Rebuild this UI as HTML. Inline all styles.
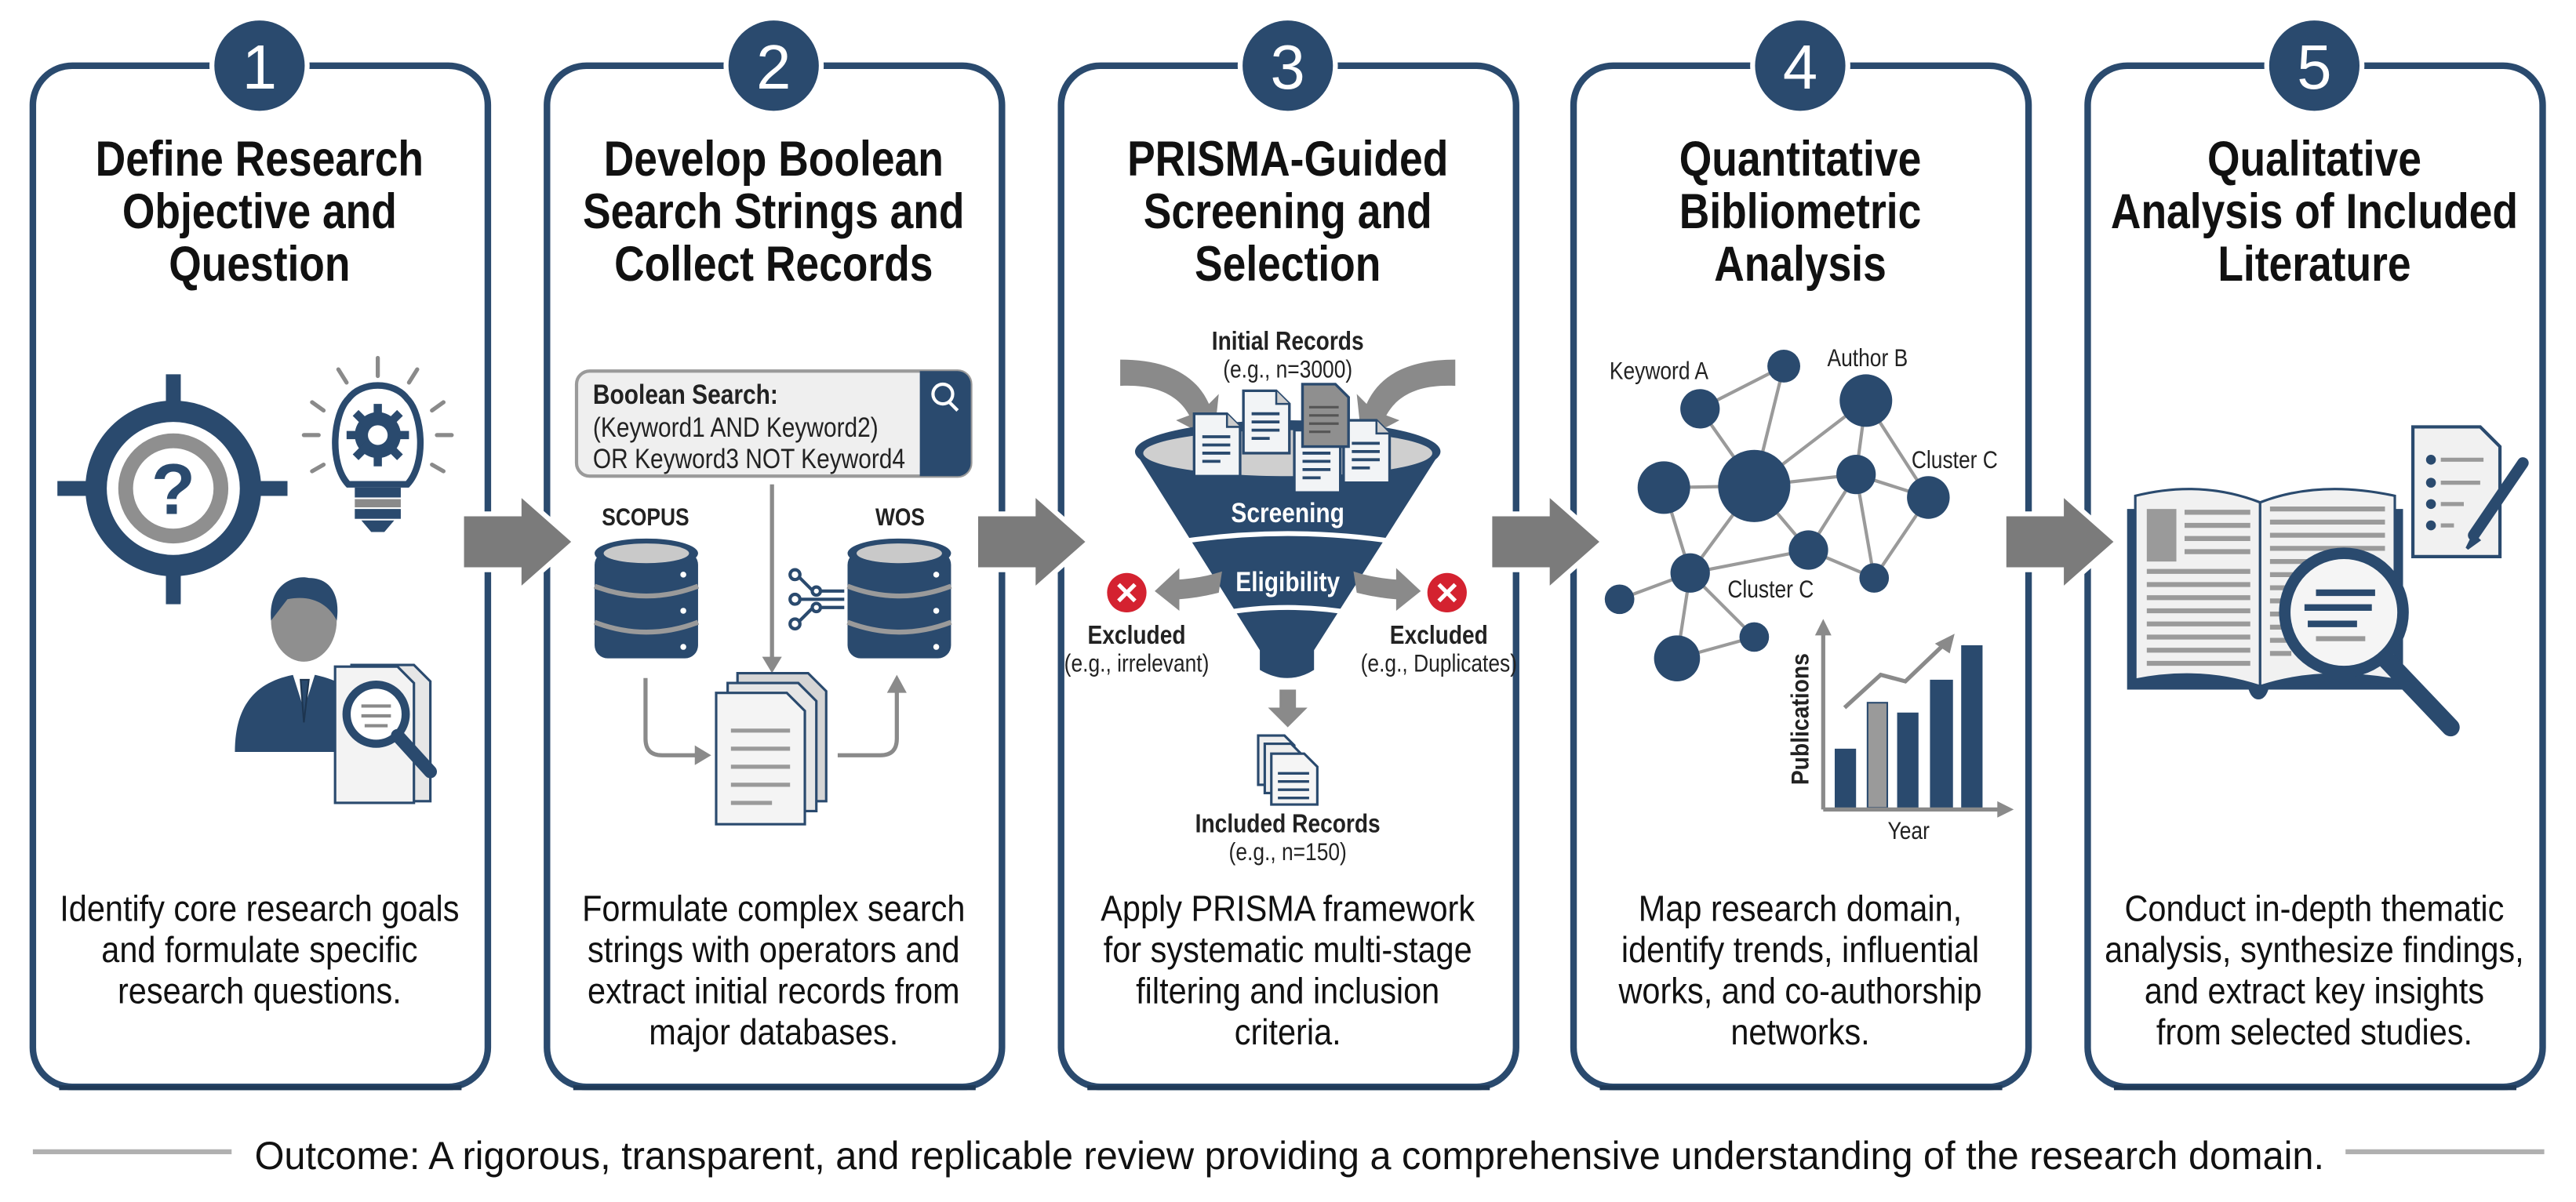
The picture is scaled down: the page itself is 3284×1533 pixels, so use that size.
<!DOCTYPE html>
<html><head><meta charset="utf-8"><style>
html,body{margin:0;padding:0;background:#fff;}
svg{display:block;}
text{font-family:"Liberation Sans",sans-serif;}
</style></head><body>
<svg width="3284" height="1533" viewBox="0 0 1568.3 732.1" xmlns="http://www.w3.org/2000/svg">
<defs>
<g id="doc"><path d="M0 0 H20 L28 8 V38 H0 Z" fill="#f2f4f6" stroke="#2a4a6e" stroke-width="1.6"/><path d="M20 0 V8 H28" fill="#ccc" stroke="#2a4a6e" stroke-width="1.2"/><path d="M5 14 H22 M5 19 H22 M5 24 H22 M5 29 H16" stroke="#2a4a6e" stroke-width="1.8"/></g>
</defs>
<rect width="1568.3" height="732.1" fill="#fff"/>

<!-- Panels -->
<g fill="none" stroke="#2a4a6e" stroke-width="4">
<rect x="20" y="40" width="277" height="622" rx="24"/>
<rect x="333" y="40" width="277" height="622" rx="24"/>
<rect x="646" y="40" width="277" height="622" rx="24"/>
<rect x="958" y="40" width="277" height="622" rx="24"/>
<rect x="1271" y="40" width="277" height="622" rx="24"/>
</g>
<g stroke="#1f3a58" stroke-width="3" fill="none">
<path d="M36 662.5 H281"/><path d="M349 662.5 H594"/><path d="M662 662.5 H907"/><path d="M974 662.5 H1219"/><path d="M1287 662.5 H1532"/>
</g>

<!-- Number circles -->
<g fill="#2a4a6e" stroke="#fff" stroke-width="3">
<circle cx="158" cy="40" r="29"/><circle cx="471" cy="40" r="29"/><circle cx="784" cy="40" r="29"/><circle cx="1096" cy="40" r="29"/><circle cx="1409" cy="40" r="29"/>
</g>
<g fill="#fff" font-size="38" text-anchor="middle">
<text x="158" y="54">1</text><text x="471" y="54">2</text><text x="784" y="54">3</text><text x="1096" y="54">4</text><text x="1409" y="54">5</text>
</g>

<!-- Titles -->
<g font-weight="bold" font-size="30" fill="#111" text-anchor="middle">
<text transform="translate(158,107) scale(.85,1)">Define Research</text>
<text transform="translate(158,139) scale(.85,1)">Objective and</text>
<text transform="translate(158,171) scale(.85,1)">Question</text>
<text transform="translate(471,107) scale(.85,1)">Develop Boolean</text>
<text transform="translate(471,139) scale(.85,1)">Search Strings and</text>
<text transform="translate(471,171) scale(.85,1)">Collect Records</text>
<text transform="translate(784,107) scale(.85,1)">PRISMA-Guided</text>
<text transform="translate(784,139) scale(.85,1)">Screening and</text>
<text transform="translate(784,171) scale(.85,1)">Selection</text>
<text transform="translate(1096,107) scale(.85,1)">Quantitative</text>
<text transform="translate(1096,139) scale(.85,1)">Bibliometric</text>
<text transform="translate(1096,171) scale(.85,1)">Analysis</text>
<text transform="translate(1409,107) scale(.85,1)">Qualitative</text>
<text transform="translate(1409,139) scale(.85,1)">Analysis of Included</text>
<text transform="translate(1409,171) scale(.85,1)">Literature</text>
</g>

<!-- Descriptions -->
<g font-size="22" fill="#111" text-anchor="middle">
<text transform="translate(158,561) scale(.9,1)">Identify core research goals</text>
<text transform="translate(158,586) scale(.9,1)">and formulate specific</text>
<text transform="translate(158,611) scale(.9,1)">research questions.</text>
<text transform="translate(471,561) scale(.9,1)">Formulate complex search</text>
<text transform="translate(471,586) scale(.9,1)">strings with operators and</text>
<text transform="translate(471,611) scale(.9,1)">extract initial records from</text>
<text transform="translate(471,636) scale(.9,1)">major databases.</text>
<text transform="translate(784,561) scale(.9,1)">Apply PRISMA framework</text>
<text transform="translate(784,586) scale(.9,1)">for systematic multi-stage</text>
<text transform="translate(784,611) scale(.9,1)">filtering and inclusion</text>
<text transform="translate(784,636) scale(.9,1)">criteria.</text>
<text transform="translate(1096,561) scale(.9,1)">Map research domain,</text>
<text transform="translate(1096,586) scale(.9,1)">identify trends, influential</text>
<text transform="translate(1096,611) scale(.9,1)">works, and co-authorship</text>
<text transform="translate(1096,636) scale(.9,1)">networks.</text>
<text transform="translate(1409,561) scale(.9,1)">Conduct in-depth thematic</text>
<text transform="translate(1409,586) scale(.9,1)">analysis, synthesize findings,</text>
<text transform="translate(1409,611) scale(.9,1)">and extract key insights</text>
<text transform="translate(1409,636) scale(.9,1)">from selected studies.</text>
</g>

<!-- Between-panel arrows -->
<g fill="#7b7b7b" stroke="#fff" stroke-width="3">
<path d="M281 313 H316 V300 L350 330 L316 360 V347 H281 Z"/>
<path d="M594 313 H629 V300 L663 330 L629 360 V347 H594 Z"/>
<path d="M907 313 H942 V300 L976 330 L942 360 V347 H907 Z"/>
<path d="M1220 313 H1255 V300 L1289 330 L1255 360 V347 H1220 Z"/>
</g>

<!-- Panel 1 icons -->
<g>
<rect x="35" y="293" width="140" height="9" fill="#2a4a6e"/>
<rect x="101" y="228" width="9" height="140" fill="#2a4a6e"/>
<circle cx="105.5" cy="297.5" r="47" fill="#fff" stroke="#2a4a6e" stroke-width="13"/>
<circle cx="105.5" cy="297.5" r="29" fill="#fff" stroke="#8f8f8f" stroke-width="9"/>
<rect x="101" y="228" width="9" height="22" fill="#2a4a6e"/><rect x="101" y="345" width="9" height="22" fill="#2a4a6e"/>
<rect x="35" y="293" width="22" height="9" fill="#2a4a6e"/><rect x="153" y="293" width="22" height="9" fill="#2a4a6e"/>
<text x="105.5" y="313" font-size="44" font-weight="bold" fill="#2a4a6e" text-anchor="middle">?</text>
</g>
<g stroke="#8a8a8a" stroke-width="2.5" stroke-linecap="round">
<path d="M230 218 V229 M206 225 L211 233 M254 225 L249 233 M190 245 L197 250 M270 245 L263 250 M185 265 H194 M266 265 H275 M190 287 L197 283 M270 287 L263 283"/>
</g>
<path d="M212 295 C200 282 203 252 212 243 C220 232 240 232 248 243 C257 252 260 282 248 295 Z" fill="#fff" stroke="#2a4a6e" stroke-width="4"/>
<g fill="#2a4a6e"><circle cx="230" cy="265" r="14"/>
<g stroke="#2a4a6e" stroke-width="5"><path d="M230 246 V284 M211 265 H249 M216.5 251.5 L243.5 278.5 M243.5 251.5 L216.5 278.5"/></g></g>
<circle cx="230" cy="265" r="6" fill="#fff"/>
<rect x="216" y="297" width="28" height="6" fill="#2a4a6e"/><rect x="216" y="304" width="28" height="5" fill="#8a8a8a"/><rect x="216" y="310" width="28" height="6" fill="#2a4a6e"/><path d="M220 317 H240 L234 324 H226 Z" fill="#2a4a6e"/>
<!-- person -->
<path d="M143 458 C143 425 160 413 185 410 C210 413 228 425 228 458 Z" fill="#2a4a6e"/>
<path d="M178 410 L185 432 L192 410 Z" fill="#fff"/><path d="M183 414 L185 440 L188 414 Z" fill="#2a4a6e" stroke="#1d3550" stroke-width="1"/>
<ellipse cx="185" cy="378" rx="20" ry="25" fill="#8f8f8f"/>
<path d="M165 378 C163 355 180 350 188 352 C203 352 207 365 205 378 C200 368 190 362 175 365 Z" fill="#2a4a6e"/>
<path d="M214 405 H252 L262 415 V488 H214 Z" fill="#e6e6e6" stroke="#2a4a6e" stroke-width="1.5"/>
<path d="M208 410 H246 L256 420 V493 H208 Z" fill="#f3f3f3" stroke="#2a4a6e" stroke-width="1.5" transform="translate(-4,-4)"/>
<circle cx="229" cy="435" r="18" fill="#fff" stroke="#2a4a6e" stroke-width="5"/>
<path d="M220 430 H238 M220 436 H238 M222 442 H236" stroke="#8a8a8a" stroke-width="2"/>
<path d="M242 448 L262 470" stroke="#2a4a6e" stroke-width="8" stroke-linecap="round"/>

<!-- Panel 2 -->
<rect x="351" y="226" width="240" height="64" rx="8" fill="#efefef" stroke="#9a9a9a" stroke-width="2"/>
<path d="M560 226 H583 A8 8 0 0 1 591 234 V282 A8 8 0 0 1 583 290 H560 Z" fill="#2a4a6e"/>
<circle cx="574" cy="240" r="6" fill="none" stroke="#fff" stroke-width="2"/><path d="M578 245 L583 250" stroke="#fff" stroke-width="2"/>
<g font-size="17" fill="#222">
<text transform="translate(361,246) scale(.84,1)" font-weight="bold">Boolean Search:</text>
<text transform="translate(361,266) scale(.84,1)">(Keyword1 AND Keyword2)</text>
<text transform="translate(361,285) scale(.84,1)">OR Keyword3 NOT Keyword4</text>
</g>
<g font-size="15" font-weight="bold" fill="#222" text-anchor="middle">
<text transform="translate(393,320) scale(.84,1)">SCOPUS</text>
<text transform="translate(548,320) scale(.84,1)">WOS</text>
</g>
<g id="db">
<rect x="362" y="336" width="63" height="65" rx="8" fill="#2a4a6e"/>
<ellipse cx="393.5" cy="337" rx="31.5" ry="9" fill="#2a4a6e"/>
<ellipse cx="393.5" cy="337" rx="26" ry="6" fill="#c9c9c9"/>
<path d="M362 357 Q393.5 369 425 357 M362 379 Q393.5 391 425 379" stroke="#9a9a9a" stroke-width="3" fill="none"/>
<circle cx="416" cy="350" r="1.8" fill="#fff"/><circle cx="416" cy="372" r="1.8" fill="#fff"/><circle cx="416" cy="394" r="1.8" fill="#fff"/>
</g>
<use href="#db" x="154"/>
<g stroke="#2a4a6e" stroke-width="2" fill="#fff">
<path d="M487 352 L495 360 H514 M487 365 H514 M487 378 L495 370 H514" fill="none"/>
<circle cx="484" cy="350" r="3"/><circle cx="484" cy="365" r="3"/><circle cx="484" cy="380" r="3"/><circle cx="497" cy="360" r="2.5"/><circle cx="497" cy="370" r="2.5"/>
</g>
<g stroke="#8a8a8a" stroke-width="2.5" fill="none">
<path d="M470 295 V402"/><path d="M393 413 V450 Q393 460 403 460 H424"/><path d="M510 460 H536 Q546 460 546 450 V420"/>
</g>
<g fill="#8a8a8a"><path d="M464 400 L470 410 L476 400 Z"/><path d="M423 454 L433 460 L423 466 Z"/><path d="M540 422 L546 411 L552 422 Z"/></g>
<path d="M449 410 H492 L503 421 V488 H449 Z" fill="#d5d5d5" stroke="#2a4a6e" stroke-width="1.5"/>
<path d="M443 416 H486 L497 427 V494 H443 Z" fill="#e6e6e6" stroke="#2a4a6e" stroke-width="1.5"/>
<path d="M436 422 H479 L490 433 V502 H436 Z" fill="#f4f4f4" stroke="#2a4a6e" stroke-width="1.5"/>
<path d="M445 445 H481 M445 456 H481 M445 467 H481 M445 478 H481 M445 489 H470" stroke="#9a9a9a" stroke-width="2.5"/>

<!-- Panel 3 -->
<g text-anchor="middle" fill="#222">
<text transform="translate(784,213) scale(.84,1)" font-size="16" font-weight="bold">Initial Records</text>
<text transform="translate(784,230) scale(.84,1)" font-size="15">(e.g., n=3000)</text>
<text transform="translate(692,392) scale(.84,1)" font-size="16" font-weight="bold">Excluded</text>
<text transform="translate(692,409) scale(.84,1)" font-size="15">(e.g.,  irrelevant)</text>
<text transform="translate(876,392) scale(.84,1)" font-size="16" font-weight="bold">Excluded</text>
<text transform="translate(876,409) scale(.84,1)" font-size="15">(e.g., Duplicates)</text>
<text transform="translate(784,507) scale(.84,1)" font-size="16" font-weight="bold">Included Records</text>
<text transform="translate(784,524) scale(.84,1)" font-size="15">(e.g., n=150)</text>
</g>
<g fill="#8a8a8a">
<path d="M682 219 C710 219 728 228 736 246 L742 240 L739 268 L716 256 L724 253 C717 240 703 234 682 235 Z"/>
<path d="M886 219 C858 219 840 228 832 246 L826 240 L829 268 L852 256 L844 253 C851 240 865 234 886 235 Z"/>
</g>
<path d="M691 275 L767 396 V408 Q784 418 800 408 V396 L877 275 Z" fill="#2a4a6e"/>
<ellipse cx="784" cy="275" rx="93" ry="19" fill="#2a4a6e"/>
<ellipse cx="784" cy="276" rx="88" ry="14" fill="#cfcfcf"/>
<use href="#doc" x="727" y="252"/>
<use href="#doc" x="757" y="238"/>
<use href="#doc" x="793" y="234"/>
<use href="#doc" x="818" y="256"/>
<use href="#doc" x="788" y="262"/>
<path d="M793 234 H813 L821 242 V272 H793 Z" fill="#8f8f8f" stroke="#2a4a6e" stroke-width="1.6"/>
<path d="M797 248 H815 M797 253 H815 M797 258 H815 M797 263 H810" stroke="#555" stroke-width="1.5"/>
<path d="M718 330 Q784 320 850 330" stroke="#fff" stroke-width="3" fill="none"/>
<path d="M741 374 Q784 366 827 374" stroke="#fff" stroke-width="3" fill="none"/>
<text transform="translate(784,318) scale(.84,1)" font-size="17" font-weight="bold" fill="#fff" text-anchor="middle">Screening</text>
<text transform="translate(784,360) scale(.84,1)" font-size="17" font-weight="bold" fill="#fff" text-anchor="middle">Eligibility</text>
<g fill="#8a8a8a">
<path d="M744 348 C738 350 730 352 718 353 V346 L703 360 L718 372 V365 C730 364 738 362 742 361 Z"/>
<path d="M824 348 C830 350 838 352 850 353 V346 L865 360 L850 372 V365 C838 364 830 362 826 361 Z"/>
<path d="M779 420 H789 V431 H796 L784 443 L772 431 H779 Z"/>
</g>
<circle cx="686" cy="361" r="12" fill="#d42230"/><path d="M681 356 L691 366 M691 356 L681 366" stroke="#fff" stroke-width="2.5"/>
<circle cx="881" cy="361" r="12" fill="#d42230"/><path d="M876 356 L886 366 M886 356 L876 366" stroke="#fff" stroke-width="2.5"/>
<path d="M766 448 H782 L788 454 V478 H766 Z" fill="#eee" stroke="#2a4a6e" stroke-width="1.5"/>
<path d="M770 453 H786 L792 459 V483 H770 Z" fill="#eee" stroke="#2a4a6e" stroke-width="1.5"/>
<path d="M774 459 H794 L802 467 V490 H774 Z" fill="#f5f5f5" stroke="#2a4a6e" stroke-width="1.5"/>
<path d="M778 471 H797 M778 476 H797 M778 481 H797 M778 486 H797" stroke="#2a4a6e" stroke-width="1.6"/>

<!-- Panel 4 network -->
<g stroke="#9a9a9a" stroke-width="2">
<path d="M1086 223 L1035 249 M1086 223 L1068 296 M1035 249 L1068 296 M1068 296 L1013 297 M1068 296 L1136 244 M1068 296 L1130 289 M1068 296 L1029 349 M1068 296 L1101 335 M1136 244 L1130 289 M1136 244 L1174 303 M1130 289 L1174 303 M1130 289 L1101 335 M1130 289 L1141 352 M1174 303 L1141 352 M1101 335 L1029 349 M1101 335 L1141 352 M1029 349 L986 365 M1029 349 L1021 401 M1029 349 L1068 388 M1068 388 L1021 401 M1013 297 L1029 349"/>
</g>
<g fill="#2a4a6e">
<circle cx="1086" cy="223" r="10"/><circle cx="1035" cy="249" r="12"/><circle cx="1136" cy="244" r="16"/><circle cx="1068" cy="296" r="22"/><circle cx="1013" cy="297" r="16"/><circle cx="1130" cy="289" r="12"/><circle cx="1174" cy="303" r="13"/><circle cx="1101" cy="335" r="12"/><circle cx="1029" cy="349" r="12"/><circle cx="1141" cy="352" r="9"/><circle cx="986" cy="365" r="9"/><circle cx="1068" cy="388" r="9"/><circle cx="1021" cy="401" r="14"/>
</g>
<g font-size="15" fill="#222" text-anchor="middle">
<text transform="translate(1010,231) scale(.84,1)">Keyword A</text>
<text transform="translate(1137,223) scale(.84,1)">Author B</text>
<text transform="translate(1190,285) scale(.84,1)">Cluster C</text>
<text transform="translate(1078,364) scale(.84,1)">Cluster C</text>
<text transform="translate(1162,511) scale(.84,1)">Year</text>
<text transform="translate(1101,438) rotate(-90) scale(.9,1)" font-weight="bold">Publications</text>
</g>
<g fill="#2a4a6e">
<rect x="1117" y="456" width="13" height="36"/><rect x="1155" y="434" width="13" height="58"/><rect x="1175" y="414" width="14" height="78"/><rect x="1194" y="393" width="13" height="99"/>
</g>
<rect x="1137" y="428" width="12" height="64" fill="#9a9a9a" stroke="#2a4a6e" stroke-width="1"/>
<g stroke="#8a8a8a" stroke-width="2.5" fill="none"><path d="M1110 493 V385"/><path d="M1110 493 H1218"/><path d="M1123 431 L1145 411 L1160 415 L1183 393"/></g>
<g fill="#8a8a8a"><path d="M1105 387 L1110 377 L1115 387 Z"/><path d="M1216 488 L1226 493 L1216 498 Z"/><path d="M1178 392 L1190 386 L1187 398 Z"/></g>

<!-- Panel 5 -->
<path d="M1295 310 H1463 V420 H1381 Q1379 426 1375 426 Q1371 426 1369 420 H1295 Z" fill="#2a4a6e"/>
<path d="M1300 302 Q1340 292 1376 306 V418 Q1340 406 1300 414 Z" fill="#f1f1f1" stroke="#2a4a6e" stroke-width="1.5"/>
<path d="M1458 302 Q1412 292 1376 306 V418 Q1412 406 1458 414 Z" fill="#f1f1f1" stroke="#2a4a6e" stroke-width="1.5"/>
<rect x="1307" y="310" width="18" height="32" fill="#9a9a9a"/>
<g stroke="#9a9a9a" stroke-width="3">
<path d="M1330 312 H1370 M1330 320 H1370 M1330 328 H1370 M1330 336 H1370 M1307 348 H1370 M1307 356 H1370 M1307 364 H1370 M1307 372 H1370 M1307 380 H1370 M1307 388 H1370 M1307 396 H1370 M1307 404 H1370"/>
<path d="M1382 310 H1452 M1382 318 H1452 M1382 326 H1452 M1382 334 H1452 M1382 342 H1420 M1382 350 H1400 M1382 358 H1395 M1382 366 H1395 M1382 374 H1395 M1382 382 H1395 M1382 390 H1395 M1382 398 H1395"/>
</g>
<circle cx="1427" cy="373" r="36" fill="#f5f5f5" stroke="#2a4a6e" stroke-width="7"/>
<g stroke="#2a4a6e" stroke-width="4"><path d="M1410 361 H1446 M1403 370 H1444 M1405 380 H1435"/></g>
<path d="M1410 389 H1440" stroke="#9a9a9a" stroke-width="3"/>
<path d="M1453 402 L1492 443" stroke="#2a4a6e" stroke-width="11" stroke-linecap="round"/>
<path d="M1469 260 H1510 L1522 272 V339 H1469 Z" fill="#f1f1f1" stroke="#2a4a6e" stroke-width="2"/>
<g fill="#2a4a6e"><circle cx="1480" cy="280" r="3"/><circle cx="1480" cy="294" r="3"/><circle cx="1480" cy="307" r="3"/><circle cx="1480" cy="320" r="3"/></g>
<g stroke="#9a9a9a" stroke-width="2.5"><path d="M1486 280 H1512 M1486 294 H1510 M1486 307 H1500 M1486 320 H1494"/></g>
<path d="M1536 282 L1506 326" stroke="#2a4a6e" stroke-width="7" stroke-linecap="round"/>
<path d="M1506 326 L1502 334 L1509 329 Z" fill="#2a4a6e" stroke="#2a4a6e" stroke-width="2"/>

<!-- Outcome -->
<rect x="20" y="700" width="121" height="3" fill="#b0b0b0"/>
<rect x="1428" y="700" width="121" height="3" fill="#b0b0b0"/>
<text x="155" y="712" font-size="24" fill="#111" textLength="1260" lengthAdjust="spacingAndGlyphs">Outcome: A rigorous, transparent, and replicable review providing a comprehensive understanding of the research domain.</text>
</svg>
</body></html>
